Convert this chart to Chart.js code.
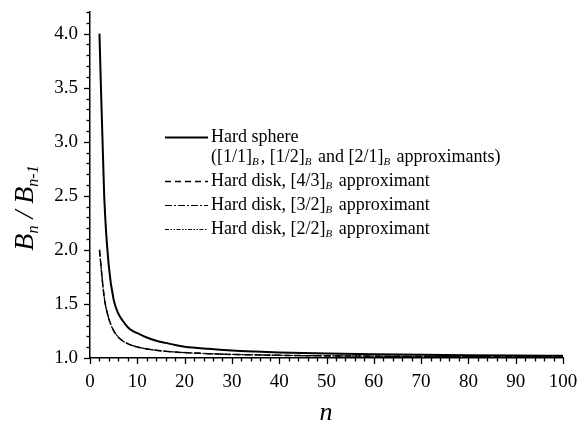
<!DOCTYPE html>
<html>
<head>
<meta charset="utf-8">
<script src="https://cdn.jsdelivr.net/npm/chart.js@4.4.1/dist/chart.umd.min.js"></script>
<style>
  html, body { margin: 0; padding: 0; background: #fff; }
  #wrap { width: 579px; height: 428px; position: relative; }
</style>
</head>
<body>
<div id="wrap"><canvas id="c" width="579" height="428"></canvas></div>
<script>
// ---- data ----
const nValues = [2,3,4,5,6,7,8,9,10,12,14,16,18,20,25,30,35,40,45,50,60,70,80,90,100];
const hardSphere = [4.00,2.50,1.84,1.54,1.41,1.34,1.285,1.25,1.23,1.19,1.16,1.14,1.12,1.105,1.085,1.07,1.06,1.052,1.046,1.041,1.034,1.029,1.025,1.022,1.020];
const hardDisk43 = [2.00,1.564,1.361,1.253,1.192,1.155,1.132,1.115,1.102,1.084,1.071,1.062,1.055,1.050,1.040,1.033,1.029,1.025,1.022,1.020,1.017,1.014,1.0125,1.011,1.010];
const hardDisk32 = [2.00,1.564,1.361,1.253,1.192,1.155,1.132,1.115,1.102,1.084,1.071,1.062,1.055,1.050,1.040,1.033,1.029,1.025,1.022,1.020,1.017,1.014,1.0125,1.011,1.010];
const hardDisk22 = [2.00,1.564,1.361,1.253,1.192,1.155,1.132,1.115,1.102,1.084,1.071,1.062,1.055,1.050,1.040,1.033,1.029,1.025,1.022,1.020,1.017,1.014,1.0125,1.011,1.010];
const xTickLabels = [0,10,20,30,40,50,60,70,80,90,100];
const yTickLabels = [1.0,1.5,2.0,2.5,3.0,3.5,4.0];

const SERIF = '"Liberation Serif", "Times New Roman", serif';
const pts = arr => nValues.map((n, i) => ({x: n, y: arr[i]}));

const legendItems = [
  {dash: [], width: 2, lines: [[['Hard sphere', false]], [['([1/1]', false], ['B', true], [', [1/2]', false], ['B', true], [' and [2/1]', false], ['B', true], [' approximants)', false]]]},
  {dash: [6, 4], width: 1.5, lines: [[['Hard disk, [4/3]', false], ['B', true], [' approximant', false]]]},
  {dash: [7, 2, 2, 2], width: 1.2, lines: [[['Hard disk, [3/2]', false], ['B', true], [' approximant', false]]]},
  {dash: [4, 1.5, 1.5, 1.5, 1.5, 1.5], width: 1, lines: [[['Hard disk, [2/2]', false], ['B', true], [' approximant', false]]]}
];

function drawRich(ctx, parts, x, y, size) {
  let cx = x;
  for (const [txt, sub] of parts) {
    if (sub) {
      ctx.font = 'italic ' + Math.round(size * 0.6) + 'px ' + SERIF;
      ctx.fillText(txt, cx, y + size * 0.28);
      cx += ctx.measureText(txt).width + 2;
    } else {
      ctx.font = size + 'px ' + SERIF;
      ctx.fillText(txt, cx, y);
      cx += ctx.measureText(txt).width;
    }
  }
}

const decorPlugin = {
  id: 'decor',
  afterDraw(chart) {
    const ctx = chart.ctx;
    const xs = chart.scales.x, ys = chart.scales.y;
    const area = chart.chartArea;
    ctx.save();
    ctx.strokeStyle = '#000';
    ctx.lineWidth = 1.3;
    // x ticks (major & minor)
    for (let v = 0; v <= 100; v += 2) {
      const px = Math.round(xs.getPixelForValue(v)) + 0.5;
      const len = (v % 10 === 0) ? 6 : 3.5;
      ctx.beginPath(); ctx.moveTo(px, area.bottom); ctx.lineTo(px, area.bottom + len); ctx.stroke();
    }
    for (let k = 10; k <= 42; k++) {
      const v = k / 10;
      const py = Math.round(ys.getPixelForValue(v)) + 0.5;
      const len = (k % 5 === 0) ? 6 : 3.5;
      ctx.beginPath(); ctx.moveTo(area.left, py); ctx.lineTo(area.left - len, py); ctx.stroke();
    }
    // legend
    ctx.fillStyle = '#000';
    ctx.textBaseline = 'middle';
    ctx.textAlign = 'left';
    const rowY = [137, 181, 205, 229];
    legendItems.forEach((it, i) => {
      const y = rowY[i];
      ctx.setLineDash(it.dash);
      ctx.lineWidth = it.width;
      ctx.beginPath(); ctx.moveTo(165, y + 0.5); ctx.lineTo(208, y + 0.5); ctx.stroke();
      ctx.setLineDash([]);
      it.lines.forEach((ln, j) => drawRich(ctx, ln, 211, y + j * 20, 18));
    });
    // x title
    ctx.font = 'italic 26px ' + SERIF;
    ctx.textAlign = 'center';
    ctx.fillText('n', 326, 413);
    // y title (rotated)
    ctx.translate(26, 208);
    ctx.rotate(-Math.PI / 2);
    ctx.textAlign = 'left';
    const parts = [['B', 28, 0], ['n', 16, 8], [' / ', 28, 0], ['B', 28, 0], ['n-1', 16, 8]];
    let total = 0;
    for (const [t, s] of parts) { ctx.font = 'italic ' + s + 'px ' + SERIF; total += ctx.measureText(t).width; }
    let cx = -total / 2;
    for (const [t, s, dy] of parts) {
      ctx.font = 'italic ' + s + 'px ' + SERIF;
      ctx.fillText(t, cx, dy);
      cx += ctx.measureText(t).width;
    }
    ctx.restore();
  }
};

const common = {fill: false, pointRadius: 0, borderColor: '#000', cubicInterpolationMode: 'monotone'};
const zeroPad = s => { s.paddingLeft = 0; s.paddingRight = 0; s.paddingTop = 0; s.paddingBottom = 0; };

new Chart(document.getElementById('c'), {
  type: 'line',
  data: {
    datasets: [
      Object.assign({label: 'Hard sphere', data: pts(hardSphere), borderWidth: 2}, common),
      Object.assign({label: 'Hard disk [4/3]', data: pts(hardDisk43), borderWidth: 1.5, borderDash: [6, 4]}, common),
      Object.assign({label: 'Hard disk [3/2]', data: pts(hardDisk32), borderWidth: 1.2, borderDash: [7, 2, 2, 2]}, common),
      Object.assign({label: 'Hard disk [2/2]', data: pts(hardDisk22), borderWidth: 1, borderDash: [4, 1.5, 1.5, 1.5, 1.5, 1.5]}, common)
    ]
  },
  options: {
    responsive: false,
    animation: false,
    layout: {padding: {top: 12, right: 16, left: 0, bottom: 0}},
    plugins: {legend: {display: false}, tooltip: {enabled: false}},
    scales: {
      x: {
        type: 'linear', min: 0, max: 100,
        afterBuildTicks: s => { s.ticks = xTickLabels.map(v => ({value: v})); },
        afterFit: s => { s.height = 70; zeroPad(s); },
        grid: {display: false, drawTicks: true, tickLength: 6},
        border: {display: true, color: '#000', width: 1.5},
        ticks: {color: '#000', font: {family: SERIF, size: 19}, padding: 7, maxRotation: 0}
      },
      y: {
        type: 'linear', min: 1.0, max: 4.2,
        afterBuildTicks: s => { s.ticks = yTickLabels.map(v => ({value: v})); },
        afterFit: s => { s.width = 90; zeroPad(s); },
        grid: {display: false, drawTicks: true, tickLength: 6},
        border: {display: true, color: '#000', width: 1.5},
        ticks: {color: '#000', font: {family: SERIF, size: 19}, padding: 6, callback: v => Number(v).toFixed(1)}
      }
    }
  },
  plugins: [decorPlugin]
});
</script>
</body>
</html>
